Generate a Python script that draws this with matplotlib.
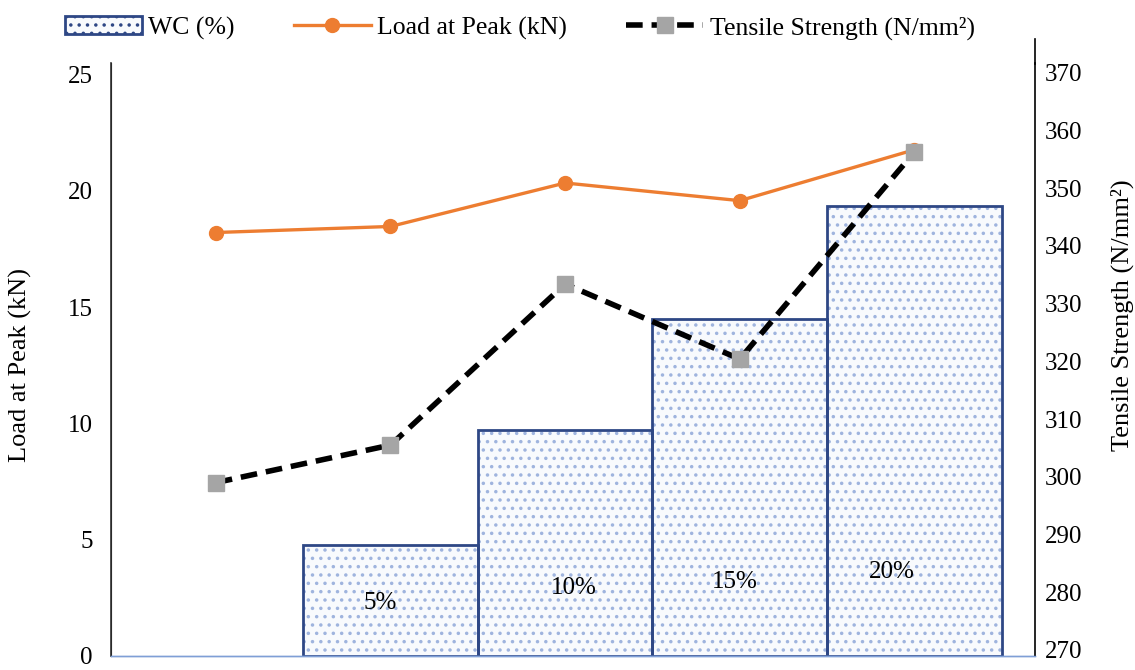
import matplotlib
matplotlib.use('Agg')
import matplotlib.pyplot as plt
from matplotlib.patches import Patch
from matplotlib.lines import Line2D

plt.rcParams['font.family'] = ['Liberation Serif', 'DejaVu Serif']
plt.rcParams['hatch.linewidth'] = 1.3

# data
categories = ['0%', '5%', '10%', '15%', '20%']
wc_labels = ['5%', '10%', '15%', '20%']
wc_heights = [4.78, 9.72, 14.49, 19.36]
load_peak = [18.21, 18.47, 20.34, 19.58, 21.77]
tensile = [299.0, 305.5, 333.4, 320.4, 356.3]

x = list(range(len(categories)))
xb = x[1:]

fig = plt.figure(figsize=(11.35, 6.7), dpi=100)
ax = fig.add_axes([0.0978, 0.0209, 0.8141, 0.8851])
ax2 = ax.twinx()

# dotted bars: hatch layer then outline
ax.bar(xb, wc_heights, width=1.0, color='#f8fafd', edgecolor='#9fb4de',
       linewidth=0, hatch='..', zorder=1)
ax.bar(xb, wc_heights, width=1.0, fill=False, edgecolor='#2e4785',
       linewidth=2.0, zorder=2)

# labels inside bars
lab_pos = [(0.94, 2.28), (2.05, 2.93), (2.97, 3.18), (3.87, 3.61)]
for (px, py), t in zip(lab_pos, wc_labels):
    ax.text(px, py, t, ha='center', va='center', fontsize=18, zorder=5)

ax.plot(x, load_peak, color='#ed7d31', lw=2.4, marker='o', ms=10, zorder=6)
ax2.plot(x, tensile, color='black', lw=4, ls=(0, (3, 1.6)), marker='s',
         ms=11, mfc='#a5a5a5', mec='#a5a5a5', zorder=7)

ax.set_xlim(-0.60, 4.69)
ax.set_ylim(0, 25.5)
ax2.set_ylim(268.96, 371.7)
ax.set_yticks([0, 5, 10, 15, 20, 25])
ax2.set_yticks(range(270, 371, 10))
ax.set_xticks([])

for a in (ax, ax2):
    a.spines['top'].set_visible(False)
    a.tick_params(axis='y', length=0, labelsize=18)
    a.spines['bottom'].set_color('#7f9fd6')
    a.spines['bottom'].set_linewidth(1.0)
ax.spines['right'].set_visible(False)
ax2.spines['left'].set_color('#333333')
ax2.spines['left'].set_linewidth(1.2)
ax2.spines['right'].set_color('black')
ax2.spines['right'].set_linewidth(1.2)
ax.tick_params(axis='y', pad=13)
ax2.tick_params(axis='y', pad=7)
ax.set_zorder(ax2.get_zorder() - 1)
ax2.patch.set_visible(False)

ax.set_ylabel('Load at Peak (kN)', fontsize=19)
ax.yaxis.set_label_coords(-0.085, 0.49)
ax2.set_ylabel('Tensile Strength (N/mm²)', fontsize=19)
ax2.yaxis.set_label_coords(1.082, 0.575)

# right spine continues above the plot area
fig.add_artist(Line2D([0.9119, 0.9119], [0.905, 0.942], color='black', lw=1.2))

handles = [
    Patch(facecolor='#f8fafd', edgecolor='#2e4785', hatch='..', lw=2.0),
    Line2D([], [], color='#ed7d31', lw=2.4, marker='o', ms=10),
    Line2D([], [], color='black', lw=4, ls=(0, (3, 1.6)), marker='s', ms=11,
           mfc='#a5a5a5', mec='#a5a5a5'),
]
fig.legend(handles, ['WC (%)', 'Load at Peak (kN)', 'Tensile Strength (N/mm²)'],
           loc='center', bbox_to_anchor=(0.458, 0.958), ncol=3, frameon=False,
           fontsize=18.5, handlelength=3.0, handletextpad=0.25, columnspacing=2.3)

fig.savefig('out.png', dpi=100)
